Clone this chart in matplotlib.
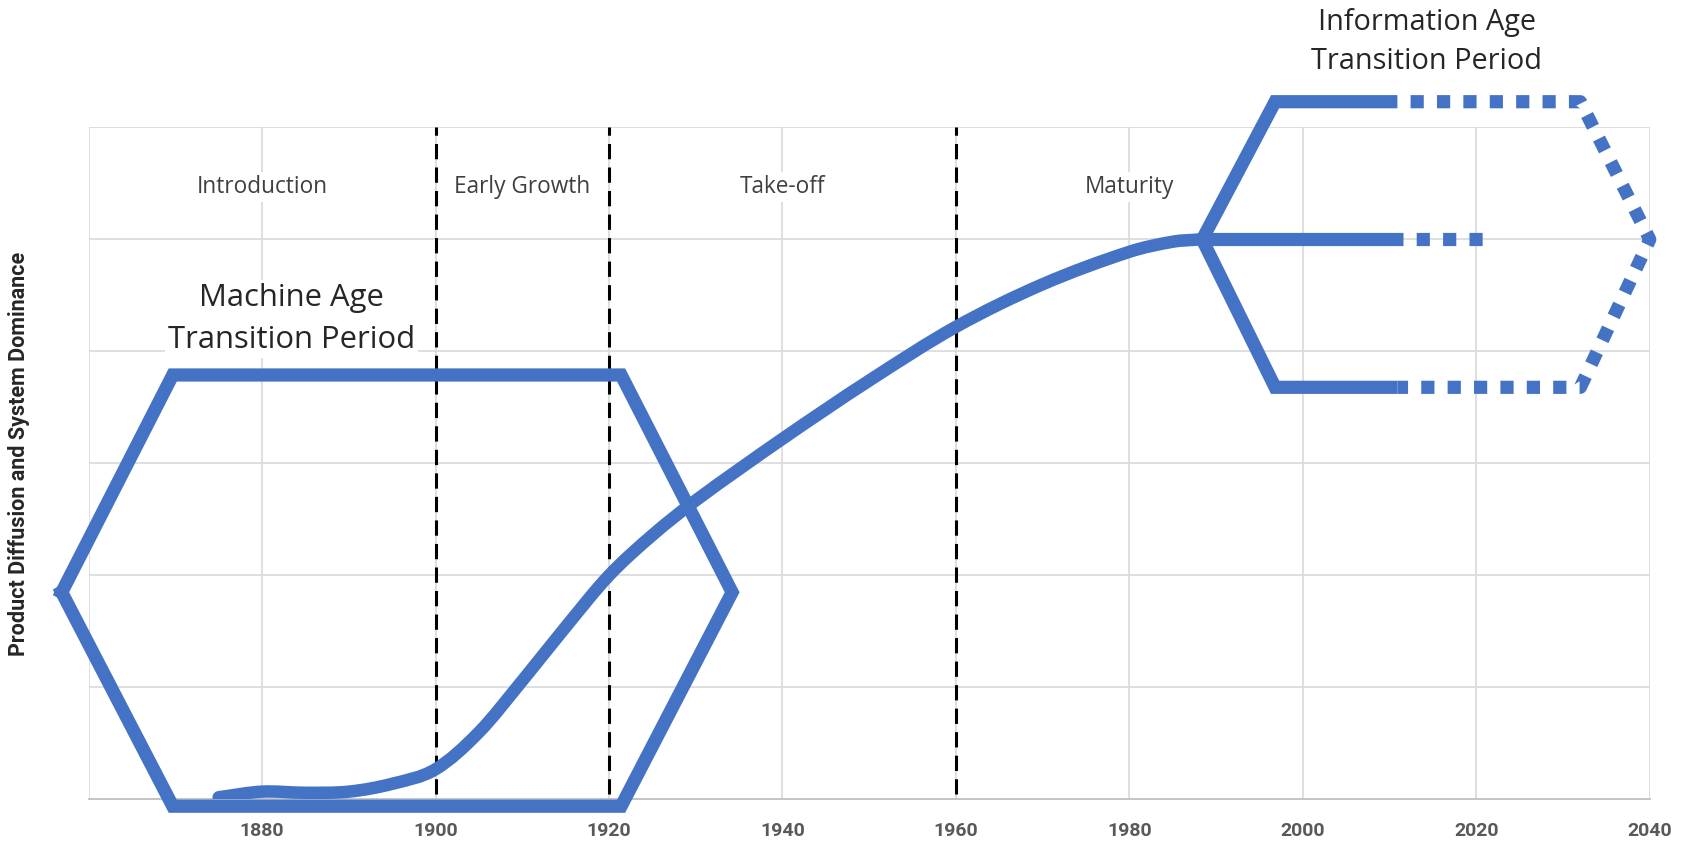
import matplotlib
matplotlib.use("Agg")
import matplotlib.pyplot as plt
from matplotlib.path import Path
from matplotlib.patches import PathPatch
from matplotlib import font_manager

BLUE = "#4472C4"
GRID = "#D9D9D9"

# S-curve (diffusion)
curve_years = [1875, 1880, 1885, 1890, 1895, 1900, 1905, 1910, 1915, 1920,
               1925, 1930, 1940, 1950, 1960, 1970, 1980, 1985, 1988]
curve_vals = [0.02, 0.07, 0.06, 0.07, 0.14, 0.27, 0.6, 1.06, 1.54, 2.0,
              2.36, 2.67, 3.22, 3.74, 4.22, 4.6, 4.89, 4.98, 5.0]

# machine age hexagon (closed)
machine_x = [1856.9, 1869.7, 1921.4, 1934.2, 1921.4, 1869.7, 1856.9]
machine_y = [1.85, 3.79, 3.79, 1.85, -0.06, -0.06, 1.85]

# information age shape: solid part and dotted (future) part
info_solid_x = [2010.9, 1996.8, 1988.4, 1996.8, 2010.9]
info_solid_y = [6.23, 6.23, 5.0, 3.68, 3.68]
info_dot_x = [2010.9, 2032.0, 2040.0, 2032.0, 2010.9]
info_dot_y = [6.23, 6.23, 5.0, 3.68, 3.68]
mid_solid_x = [1988.4, 2011.6]
mid_solid_y = [5.0, 5.0]
mid_dot_x = [2011.6, 2021.0]
mid_dot_y = [5.0, 5.0]

phase_bounds = [1900, 1920, 1960]
phase_names = ["Introduction", "Early Growth", "Take-off", "Maturity"]
phase_x = [1880, 1910, 1940, 1980]
phase_y = 5.47

year_ticks = [1880, 1900, 1920, 1940, 1960, 1980, 2000, 2020, 2040]

names = {f.name for f in font_manager.fontManager.ttflist}
TXT = "Open Sans" if "Open Sans" in names else "DejaVu Sans"
NARROW = "Roboto" if "Roboto" in names else "DejaVu Sans"


def smooth_path(xs, ys):
    # smoothed line drawn as cubic bezier segments through every point
    n = len(xs)
    slopes = []
    for i in range(n):
        a = max(i - 1, 0)
        b = min(i + 1, n - 1)
        slopes.append((ys[b] - ys[a]) / (xs[b] - xs[a]))
    verts = [(xs[0], ys[0])]
    codes = [Path.MOVETO]
    for i in range(n - 1):
        h = (xs[i + 1] - xs[i]) / 3
        verts += [(xs[i] + h, ys[i] + slopes[i] * h),
                  (xs[i + 1] - h, ys[i + 1] - slopes[i + 1] * h),
                  (xs[i + 1], ys[i + 1])]
        codes += [Path.CURVE4] * 3
    return Path(verts, codes)


fig = plt.figure(figsize=(16.94, 8.47), dpi=100)
ax = fig.add_axes([0.0523, 0.0561, 0.9216, 0.7934])
ax.set_xlim(1860, 2040)
ax.set_ylim(0, 6)

for yy in range(1, 7):
    ax.axhline(yy, color=GRID, lw=1.2, zorder=0)
for xx in range(1860, 2041, 20):
    ax.axvline(xx, color=GRID, lw=1.2, zorder=0)
for s in ["top", "left", "right"]:
    ax.spines[s].set_visible(False)
ax.spines["bottom"].set_color("#BFBFBF")
ax.spines["bottom"].set_linewidth(1.3)

ax.set_yticks([])
ax.set_xticks(year_ticks)
ax.set_xticklabels([str(y) for y in year_ticks], family=NARROW, fontweight="bold",
                   fontsize=14, color="#595959")
ax.tick_params(axis="x", length=0, pad=16)
fig.text(0.0115, 0.464, "Product Diffusion and System Dominance", rotation=90,
         ha="center", va="center", family=NARROW, fontweight="bold", fontsize=15.5,
         color="#262626")

box = dict(facecolor="white", edgecolor="none", pad=2)
for name, xp in zip(phase_names, phase_x):
    ax.text(xp, phase_y, name, ha="center", va="center", family=TXT, fontsize=16.3,
            color="#404040", bbox=box, zorder=2)

for b in phase_bounds:
    ax.plot([b, b], [0.05, 6], color="black", lw=2.2, dashes=(5, 2.7), zorder=3)

ax.text(1883.4, 4.29, "Machine Age\nTransition Period", ha="center", va="center",
        family=TXT, fontsize=22.3, color="#262626", linespacing=1.5, bbox=box, zorder=2)
ax.text(2014.3, 6.76, "Information Age\nTransition Period", ha="center", va="center",
        family=TXT, fontsize=20.8, color="#262626", linespacing=1.45, zorder=2, clip_on=False)

ax.plot(machine_x, machine_y, color=BLUE, lw=9.5, solid_joinstyle="miter",
        clip_on=False, zorder=4)
ax.add_patch(PathPatch(smooth_path(curve_years, curve_vals), fill=False, edgecolor=BLUE,
                       lw=9, capstyle="round", joinstyle="round", zorder=5))
ax.plot(info_solid_x, info_solid_y, color=BLUE, lw=9.5, solid_joinstyle="miter",
        solid_capstyle="butt", clip_on=False, zorder=4)
ax.plot(mid_solid_x, mid_solid_y, color=BLUE, lw=9.5, solid_capstyle="butt", zorder=4)
ax.plot(info_dot_x, info_dot_y, color=BLUE, lw=9.5, linestyle=(1.0, (1, 1)),
        dash_capstyle="butt", clip_on=False, zorder=4)
ax.plot(mid_dot_x, mid_dot_y, color=BLUE, lw=9.5, linestyle=(1.0, (1, 1)),
        dash_capstyle="butt", zorder=4)

fig.savefig("out.png", dpi=100)
